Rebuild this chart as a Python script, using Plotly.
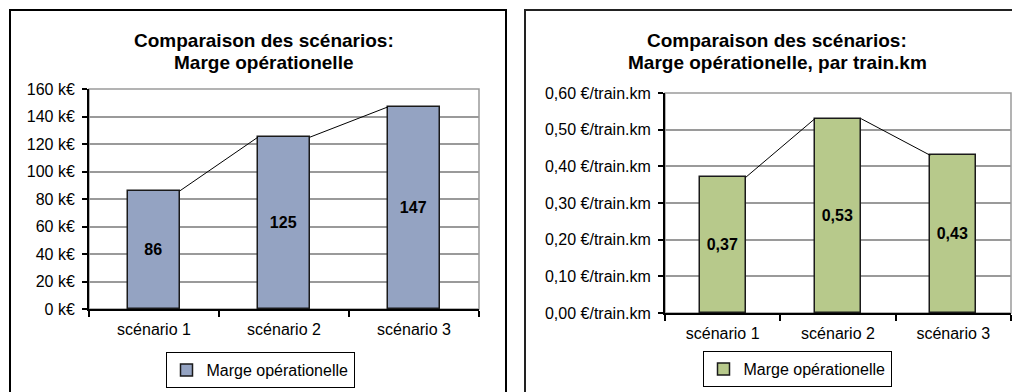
import plotly.graph_objects as go

# --- data -------------------------------------------------------------
categories = ["scénario 1", "scénario 2", "scénario 3"]
series_name = "Marge opérationelle"

marge_keur = [86, 125, 147]                 # k€
marge_par_trainkm = [0.37, 0.53, 0.43]      # €/train.km

left_ticks = [0, 20, 40, 60, 80, 100, 120, 140, 160]
right_ticks = [0.0, 0.1, 0.2, 0.3, 0.4, 0.5, 0.6]

title_left = ["Comparaison des scénarios:", "Marge opérationelle"]
title_right = ["Comparaison des scénarios:", "Marge opérationelle, par train.km"]

# --- styling ----------------------------------------------------------
W, H = 1012, 392
FONT = "Arial, Liberation Sans, sans-serif"
FS = 16
BAR_W = 0.4
BLUE = "#94A3C2"
GREEN = "#B7C98B"
GRID = "#9A9A9A"


def px(x):
    return x / W


def py(y):
    return 1 - y / H


def fmt_fr(v, nd=2):
    return f"{v:.{nd}f}".replace(".", ",")


fig = go.Figure()


def add_chart(values, color, xa, ya, legend, labels):
    xs = list(range(len(values)))
    fig.add_trace(go.Bar(
        x=xs, y=values, width=BAR_W, name=series_name,
        marker=dict(color=color, line=dict(color="#1a1a1a", width=1.5)),
        text=labels, textposition="inside", insidetextanchor="middle",
        textangle=0, constraintext="none",
        textfont=dict(family=FONT, size=FS, color="black", weight="bold"),
        xaxis=xa, yaxis=ya, legend=legend, hoverinfo="skip",
    ))
    # series lines joining the tops of neighbouring bars
    lx, ly = [], []
    for i in range(len(values) - 1):
        lx += [xs[i] + BAR_W / 2, xs[i + 1] - BAR_W / 2, None]
        ly += [values[i], values[i + 1], None]
    fig.add_trace(go.Scatter(
        x=lx, y=ly, mode="lines", line=dict(color="black", width=1),
        showlegend=False, hoverinfo="skip", xaxis=xa, yaxis=ya,
    ))


add_chart(marge_keur, BLUE, "x", "y", "legend", [str(v) for v in marge_keur])
add_chart(marge_par_trainkm, GREEN, "x2", "y2", "legend2",
          [fmt_fr(v) for v in marge_par_trainkm])

xaxis_common = dict(
    range=[-0.5, len(categories) - 0.5],
    tickvals=list(range(len(categories))), ticktext=categories,
    ticks="", showgrid=False, zeroline=False,
    showline=True, linecolor="black", linewidth=2,
    tickfont=dict(family=FONT, size=FS, color="black"),
    ticklabelstandoff=5,
    minor=dict(tick0=-0.5, dtick=1, ticks="outside", ticklen=6,
               tickwidth=1.5, tickcolor="black", showgrid=False),
    fixedrange=True,
)
yaxis_common = dict(
    showgrid=True, gridcolor=GRID, gridwidth=1.5, zeroline=False,
    showline=True, linecolor="black", linewidth=2,
    ticks="outside", ticklen=5, tickwidth=1.5, tickcolor="black",
    tickfont=dict(family=FONT, size=FS, color="black"),
    ticklabelstandoff=4,
    fixedrange=True,
)

fig.update_layout(
    width=W, height=H,
    margin=dict(l=0, r=0, t=0, b=0, autoexpand=False),
    paper_bgcolor="white", plot_bgcolor="white",
    font=dict(family=FONT, color="black"),
    bargap=0,
    xaxis=dict(domain=[px(89), px(479)], anchor="y", **xaxis_common),
    yaxis=dict(domain=[py(309), py(89)], anchor="x",
               range=[left_ticks[0], left_ticks[-1]],
               tickvals=left_ticks,
               ticktext=[f"{v} k€" for v in left_ticks],
               **yaxis_common),
    xaxis2=dict(domain=[px(665), px(1011)], anchor="y2", **xaxis_common),
    yaxis2=dict(domain=[py(313), py(93)], anchor="x2",
                range=[right_ticks[0], right_ticks[-1]],
                tickvals=right_ticks,
                ticktext=[f"{fmt_fr(v)} €/train.km" for v in right_ticks],
                **yaxis_common),
    legend=dict(x=px(260), y=py(370), xanchor="center", yanchor="middle",
                bordercolor="black", borderwidth=1, bgcolor="white",
                font=dict(family=FONT, size=FS, color="black"),
                itemwidth=30),
    legend2=dict(x=px(797), y=py(369), xanchor="center", yanchor="middle",
                 bordercolor="black", borderwidth=1, bgcolor="white",
                 font=dict(family=FONT, size=FS, color="black"),
                 itemwidth=30),
    showlegend=True,
)

# outer chart frames
fig.add_shape(type="rect", xref="paper", yref="paper",
              x0=px(10), x1=px(506), y0=-0.05, y1=py(10),
              line=dict(color="black", width=2), layer="below")
fig.add_shape(type="rect", xref="paper", yref="paper",
              x0=px(525), x1=1.05, y0=-0.05, y1=py(10),
              line=dict(color="#222222", width=2), layer="below")

# grey plot-area outlines
for xa, ya in (("x", "y"), ("x2", "y2")):
    fig.add_shape(type="rect", xref=f"{xa} domain", yref=f"{ya} domain",
                  x0=0, x1=1, y0=0, y1=1,
                  line=dict(color=GRID, width=1.5), layer="below")

# two-line chart titles
for lines, cx in ((title_left, 264), (title_right, 777)):
    for text, cy in zip(lines, (41, 63)):
        fig.add_annotation(text=f"<b>{text}</b>", xref="paper", yref="paper",
                           x=px(cx), y=py(cy), xanchor="center",
                           yanchor="middle", showarrow=False,
                           font=dict(family=FONT, size=19, color="black"))

fig.write_html("out.html")
